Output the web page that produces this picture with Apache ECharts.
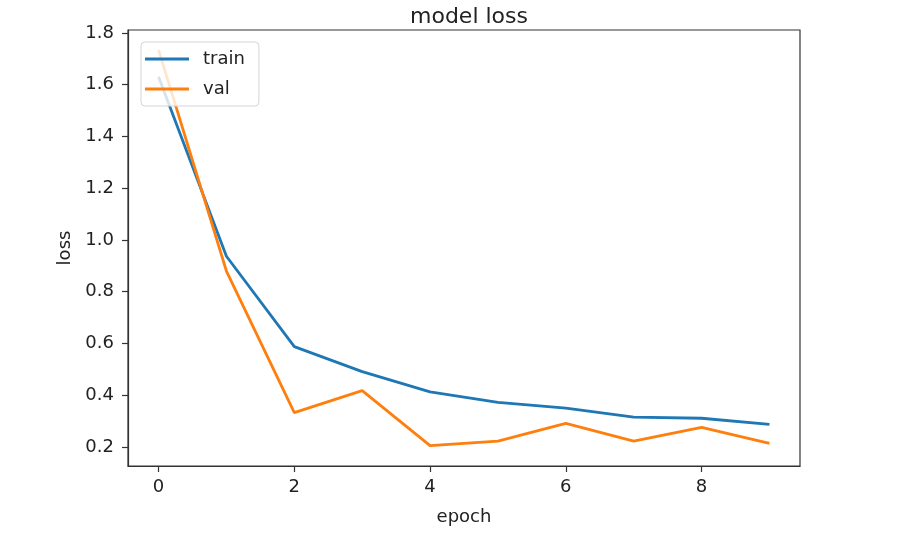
<!DOCTYPE html>
<html>
<head>
<meta charset="utf-8">
<script src="https://cdn.jsdelivr.net/npm/echarts@6/dist/echarts.min.js"></script>
<style>
html,body{margin:0;padding:0;background:#fff;}
#c{width:914px;height:548px;}
</style>
</head>
<body>
<div id="c"></div>
<script>
const epochs = [0, 1, 2, 3, 4, 5, 6, 7, 8, 9];
const trainLoss = [1.631, 0.937, 0.588, 0.491, 0.413, 0.372, 0.350, 0.315, 0.311, 0.287];
const valLoss = [1.735, 0.880, 0.333, 0.418, 0.205, 0.223, 0.291, 0.223, 0.276, 0.214];
const xTicks = [0, 2, 4, 6, 8];
const yTicks = [0.2, 0.4, 0.6, 0.8, 1.0, 1.2, 1.4, 1.6, 1.8];

const font = 'DejaVu Sans';
const axisCol = '#333';
const chart = echarts.init(document.getElementById('c'), null, {renderer: 'canvas'});
chart.setOption({
  animation: false,
  backgroundColor: '#fff',
  textStyle: {fontFamily: font},
  title: {
    text: 'model loss', left: 464, top: 1, textAlign: 'center',
    textStyle: {fontFamily: font, fontSize: 22, fontWeight: 'normal', color: '#222'}
  },
  grid: {left: 128, right: 114, top: 30, bottom: 82, show: true, borderColor: axisCol, borderWidth: 1.2, backgroundColor: 'transparent'},
  legend: {
    orient: 'vertical', left: 141, top: 42,
    padding: [8, 14, 8, 4],
    itemWidth: 44, itemHeight: 3, itemGap: 12,
    icon: 'rect',
    backgroundColor: 'rgba(255,255,255,0.8)',
    borderColor: '#d5d5d5', borderWidth: 1, borderRadius: 4,
    textStyle: {fontFamily: font, fontSize: 18, color: '#222', padding: [0, 0, 0, 9]},
    data: ['train', 'val']
  },
  xAxis: {
    type: 'value', min: -0.45, max: 9.45,
    name: 'epoch', nameLocation: 'middle', nameGap: 42,
    nameTextStyle: {fontFamily: font, fontSize: 18, color: '#222'},
    axisLine: {show: true, onZero: false, lineStyle: {color: axisCol, width: 1.2}},
    axisTick: {show: true, length: 6, customValues: xTicks, lineStyle: {color: axisCol, width: 1.2}},
    axisLabel: {customValues: xTicks, margin: 12, fontFamily: font, fontSize: 18, color: '#222'},
    splitLine: {show: false}
  },
  yAxis: {
    type: 'value', min: 0.1265, max: 1.8115,
    name: 'loss', nameLocation: 'middle', nameGap: 52,
    nameTextStyle: {fontFamily: font, fontSize: 18, color: '#222'},
    axisLine: {show: true, onZero: false, lineStyle: {color: axisCol, width: 1.2}},
    axisTick: {show: true, length: 6, customValues: yTicks, lineStyle: {color: axisCol, width: 1.2}},
    axisLabel: {customValues: yTicks, margin: 14, fontFamily: font, fontSize: 18, color: '#222',
      formatter: v => v.toFixed(1)},
    splitLine: {show: false}
  },
  series: [
    {name: 'train', type: 'line', data: epochs.map((e, i) => [e, trainLoss[i]]),
     showSymbol: false, lineStyle: {color: '#1f77b4', width: 2.8}, itemStyle: {color: '#1f77b4'}},
    {name: 'val', type: 'line', data: epochs.map((e, i) => [e, valLoss[i]]),
     showSymbol: false, lineStyle: {color: '#ff7f0e', width: 2.8}, itemStyle: {color: '#ff7f0e'}}
  ]
});
</script>
</body>
</html>
